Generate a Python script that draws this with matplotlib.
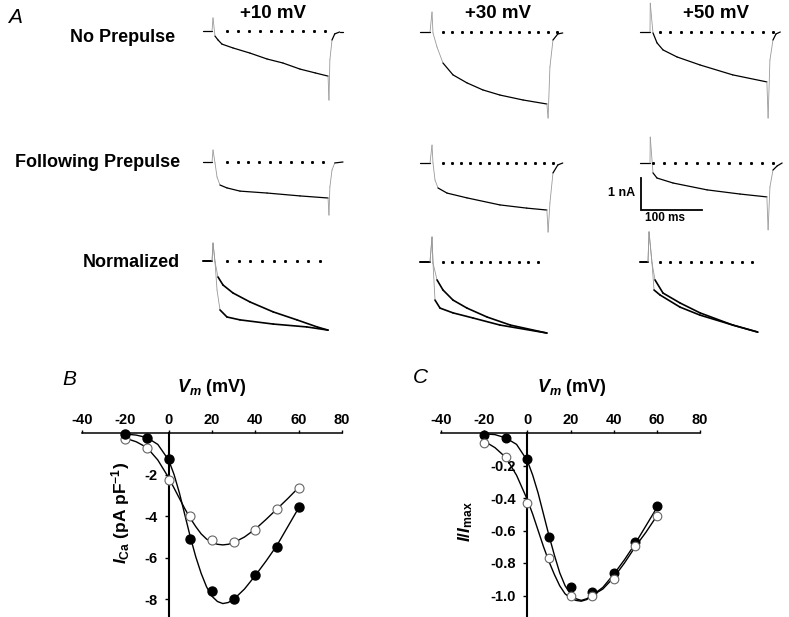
import numpy as np
import matplotlib.pyplot as plt

plt.rcParams['font.family'] = 'Liberation Sans'
plt.rcParams['font.weight'] = 'bold'
plt.rcParams['axes.unicode_minus'] = False
plt.rcParams['mathtext.fontset'] = 'custom'
plt.rcParams['mathtext.rm'] = 'Liberation Sans:bold'
plt.rcParams['mathtext.it'] = 'Liberation Sans:italic:bold'
plt.rcParams['mathtext.bf'] = 'Liberation Sans:bold'

# ---------------- data ----------------
steps = ['+10 mV', '+30 mV', '+50 mV']
row_labels = ['No Prepulse', 'Following Prepulse', 'Normalized']

# panel A traces, time in ms, current in nA (one list per test potential)
t_noprepulse = [
    [0, 14.8, 16.4, 19.7, 24.6, 31.1, 49.2, 77, 105, 131, 159, 184, 205, 206.5, 208, 211.5, 216, 224, 229],
    [0, 16.4, 19.7, 21.3, 27.9, 37.7, 54.1, 77, 103, 131, 169, 208, 210, 213, 218, 226, 234],
    [0, 16.4, 16.8, 21.3, 27.9, 37.7, 60.7, 98.4, 152, 208, 210, 213, 218, 223, 230],
]
i_noprepulse = [
    [0, 0, 0.41, -0.16, -0.28, -0.41, -0.53, -0.69, -0.875, -1.0, -1.19, -1.31, -1.41, -2.16, -0.9, -0.28, -0.09, -0.03, -0.03],
    [0, 0, 0.625, -0.03, -0.47, -0.97, -1.34, -1.59, -1.81, -1.97, -2.125, -2.25, -2.69, -1.09, -0.25, -0.06, -0.03],
    [0, 0, 0.9, -0.03, -0.34, -0.56, -0.78, -1.03, -1.34, -1.56, -2.69, -0.875, -0.25, -0.06, 0],
]
t_prepulse = [
    [0, 14.8, 16.4, 19.7, 23, 27.9, 39.3, 60.7, 105, 159, 205, 206.5, 208, 211.5, 216, 229.5],
    [0, 16.4, 19.7, 21.3, 24.6, 29.5, 44.3, 77, 131, 175, 208, 210, 213, 218, 226, 234],
    [0, 16.4, 16.8, 21.3, 27.9, 54.1, 110, 164, 208, 210, 213, 218, 225, 233],
]
i_prepulse = [
    [0, 0, 0.375, -0.03, -0.47, -0.72, -0.81, -0.91, -0.97, -1.06, -1.125, -1.66, -0.78, -0.25, -0.03, 0],
    [0, 0, 0.56, 0, -0.53, -0.78, -0.94, -1.09, -1.31, -1.41, -1.47, -2.16, -1.25, -0.31, -0.06, 0],
    [0, 0, 0.81, -0.31, -0.47, -0.625, -0.84, -0.97, -1.06, -2.09, -0.75, -0.22, -0.09, 0],
]
# normalized: slow = no prepulse, fast = following prepulse
t_norm_slow = [
    [0, 14.8, 16.4, 19.7, 24.6, 32.8, 49.2, 77, 115, 154, 187, 205],
    [0, 16.4, 19.7, 21.3, 27.9, 37.7, 54.1, 77, 110, 148, 208],
    [0, 13.1, 14.8, 19.7, 24.6, 37.7, 65.6, 98.4, 152, 193],
]
i_norm_slow = [
    [0, 0, 0.56, -0.03, -0.5, -0.75, -1.0, -1.28, -1.59, -1.84, -2.06, -2.16],
    [0, 0, 0.78, -0.03, -0.56, -0.875, -1.19, -1.44, -1.72, -1.97, -2.22],
    [0, 0, 0.94, -0.03, -0.56, -0.97, -1.28, -1.59, -1.97, -2.19],
]
t_norm_fast = [
    [0, 14.8, 16.4, 19.7, 23, 27.9, 39.3, 60.7, 115, 170, 205],
    [0, 16.4, 19.7, 21.3, 24.6, 32.8, 54.1, 87, 131, 208],
    [0, 13.1, 14.8, 19.7, 23, 32.8, 65.6, 98.4, 152, 193],
]
i_norm_fast = [
    [0, 0, 0.56, -0.03, -0.91, -1.53, -1.75, -1.84, -1.97, -2.06, -2.16],
    [0, 0, 0.78, -0.03, -1.19, -1.44, -1.59, -1.75, -1.97, -2.22],
    [0, 0, 0.94, -0.03, -0.875, -1.03, -1.41, -1.66, -1.97, -2.19],
]
# zero-current dotted lines: (start ms, end ms, number of dots) per row / column
zero_dots = [
    [(39.3, 200, 10), (37.7, 224.6, 13), (32.8, 218, 12)],
    [(39.3, 197, 10), (37.7, 218, 13), (21.3, 218, 12)],
    [(39.3, 192, 9), (37.7, 193.4, 11), (32.8, 183.6, 10)],
]

# panel B / C: I-V relations
vm = [-20, -10, 0, 10, 20, 30, 40, 50, 60]
ica_filled = [-0.05, -0.22, -1.24, -5.1, -7.58, -7.99, -6.84, -5.46, -3.58]
ica_open = [-0.27, -0.7, -2.24, -3.98, -5.13, -5.26, -4.68, -3.64, -2.64]
norm_filled = [-0.01, -0.03, -0.16, -0.64, -0.95, -0.98, -0.86, -0.67, -0.45]
norm_open = [-0.06, -0.15, -0.43, -0.77, -1.0, -1.0, -0.9, -0.695, -0.51]

fit_vm = [-20, -15, -10, -5, 0, 2.5, 5, 7.5, 10, 12.5, 15, 17.5, 20, 22.5, 25, 27.5, 30, 35, 40, 45, 50, 55, 60]
ica_fit_filled = [-0.05, -0.1, -0.22, -0.55, -1.3, -2.0, -2.9, -3.95, -5.0, -5.95, -6.75, -7.4, -7.85, -8.1,
                  -8.2, -8.15, -8.0, -7.5, -6.85, -6.15, -5.4, -4.5, -3.6]
ica_fit_open = [-0.25, -0.42, -0.7, -1.3, -2.15, -2.65, -3.15, -3.65, -4.1, -4.5, -4.85, -5.1, -5.25, -5.35,
                -5.38, -5.35, -5.27, -5.0, -4.62, -4.15, -3.65, -3.15, -2.62]
norm_fit_filled = [-0.005, -0.01, -0.03, -0.07, -0.17, -0.26, -0.37, -0.5, -0.63, -0.75, -0.86, -0.94, -0.99,
                   -1.02, -1.03, -1.02, -1.0, -0.95, -0.87, -0.78, -0.68, -0.57, -0.46]
norm_fit_open = [-0.05, -0.09, -0.15, -0.26, -0.41, -0.5, -0.6, -0.7, -0.79, -0.87, -0.94, -0.99, -1.015,
                 -1.03, -1.035, -1.025, -1.0, -0.96, -0.89, -0.8, -0.7, -0.61, -0.51]

vm_ticks = [-40, -20, 0, 20, 40, 60, 80]

# ---------------- layout ----------------
W, H = 789, 617
PX_MS, PX_NA = 0.61, 32.0          # scale of the traces in pixels
col_x0 = [203, 420, 640]
row_y0 = [[31, 32, 32], [162, 163, 163], [261, 262, 262]]

fig = plt.figure(figsize=(W / 100, H / 100), dpi=100)
fig.patch.set_facecolor('white')


def fx(x):
    return x / W


def fy(y):
    return 1 - y / H


def trace_axes(x0, yb):
    tmin, tmax, imin, imax = -15, 250, -3.2, 1.2
    ax = fig.add_axes([fx(x0 + tmin * PX_MS), fy(yb - imin * PX_NA),
                       (tmax - tmin) * PX_MS / W, (imax - imin) * PX_NA / H])
    ax.set_xlim(tmin, tmax)
    ax.set_ylim(imin, imax)
    ax.axis('off')
    ax.patch.set_alpha(0)
    return ax


def draw_trace(ax, t, cur, lw=0.9):
    # fast (steep) parts of a recording look faint grey
    for k in range(len(t) - 1):
        dx = (t[k + 1] - t[k]) * PX_MS
        dy = (cur[k + 1] - cur[k]) * PX_NA
        fast = abs(dy) > 2.5 * abs(dx) and abs(dy) > 4
        ax.plot(t[k:k + 2], cur[k:k + 2], color='0.6' if fast else 'black',
                lw=0.6 if fast else lw, solid_capstyle='round', clip_on=False)


for c in range(3):
    traces = [[(t_noprepulse[c], i_noprepulse[c], 0.9)],
              [(t_prepulse[c], i_prepulse[c], 0.9)],
              [(t_norm_slow[c], i_norm_slow[c], 1.2), (t_norm_fast[c], i_norm_fast[c], 1.2)]]
    for r in range(3):
        ax = trace_axes(col_x0[c], row_y0[r][c])
        for t, cur, lw in traces[r]:
            draw_trace(ax, t, cur, lw)
        t0, t1, n = zero_dots[r][c]
        ax.plot(np.linspace(t0, t1, n), np.zeros(n), ls='none', marker='s', ms=1.1,
                color='black', clip_on=False)
        if r == 1 and c == 2:
            # scale bar
            ax.plot([1.6, 1.6, 101.6], [-0.47, -1.47, -1.47], color='black', lw=1.3,
                    solid_joinstyle='miter', clip_on=False)
            ax.text(-8, -0.94, '1 nA', ha='right', va='center', fontsize=9)
            ax.text(8, -1.72, '100 ms', ha='left', va='center', fontsize=8.5)

# column / row labels
for x, s in zip([273, 498, 716], steps):
    fig.text(fx(x), fy(18), s, ha='center', va='baseline', fontsize=13.5)
for (x, y), s in zip([(175, 42), (180, 167), (180, 267)], row_labels):
    fig.text(fx(x), fy(y), s, ha='right', va='baseline', fontsize=13)

fig.text(fx(8), fy(23), 'A', style='italic', weight='normal', fontsize=15, va='baseline')
fig.text(fx(62), fy(385), 'B', style='italic', weight='normal', fontsize=15, va='baseline')
fig.text(fx(413), fy(383), 'C', style='italic', weight='normal', fontsize=15, va='baseline')


def iv_axes(left, right, ybottom, yticks, fmt):
    ax = fig.add_axes([fx(left), 0, (right - left) / W, (H - 433) / H])
    ax.set_xlim(-40, 80)
    ax.set_ylim(ybottom, 0)
    ax.patch.set_alpha(0)
    for s in ['right', 'bottom']:
        ax.spines[s].set_visible(False)
    ax.spines['left'].set_position(('data', 0))
    ax.spines['left'].set_linewidth(1.5)
    ax.spines['top'].set_linewidth(1.1)
    ax.xaxis.tick_top()
    ax.set_xticks(vm_ticks)
    ax.set_xticklabels([str(v) for v in vm_ticks])
    ax.set_yticks(yticks)
    ax.set_yticklabels([fmt % v for v in yticks])
    ax.tick_params(axis='x', direction='out', length=2, width=1, pad=2.5, labelsize=10.5)
    ax.tick_params(axis='y', direction='out', length=3, width=1, pad=5, labelsize=10.5)
    return ax


ax_b = iv_axes(82, 342, -(H - 433) / 20.8, [-2, -4, -6, -8], '%d')
ax_b.plot(fit_vm, ica_fit_open, color='black', lw=1.0, clip_on=False)
ax_b.plot(fit_vm, ica_fit_filled, color='black', lw=1.0, clip_on=False)
ax_b.plot(vm, ica_open, ls='none', marker='o', ms=6.5, mfc='white', mec='0.4', mew=0.8,
          clip_on=False, zorder=3)
ax_b.plot(vm, ica_filled, ls='none', marker='o', ms=6.5, mfc='black', mec='black',
          clip_on=False, zorder=4)

ax_c = iv_axes(441, 700, -(H - 433) / 162.5, [-0.2, -0.4, -0.6, -0.8, -1.0], '%.1f')
ax_c.plot(fit_vm, norm_fit_open, color='black', lw=1.0, clip_on=False)
ax_c.plot(fit_vm, norm_fit_filled, color='black', lw=1.0, clip_on=False)
ax_c.plot(vm, norm_filled, ls='none', marker='o', ms=6.2, mfc='black', mec='black',
          clip_on=False, zorder=3)
ax_c.plot(vm, norm_open, ls='none', marker='o', ms=6.2, mfc='white', mec='0.4', mew=0.8,
          clip_on=False, zorder=4)

fig.text(fx(212), fy(392), r'$V_m$ (mV)', ha='center', va='baseline', fontsize=13)
fig.text(fx(572), fy(392), r'$V_m$ (mV)', ha='center', va='baseline', fontsize=13)
fig.text(fx(121), fy(513), r'$I_{\mathrm{Ca}}$ (pA pF$^{\mathrm{-1}}$)', rotation=90,
         ha='center', va='center', fontsize=12.5)
fig.text(fx(466), fy(522), r'$I/I_{\mathrm{max}}$', rotation=90, ha='center', va='center',
         fontsize=12.5)

fig.savefig('out.png', dpi=100)
